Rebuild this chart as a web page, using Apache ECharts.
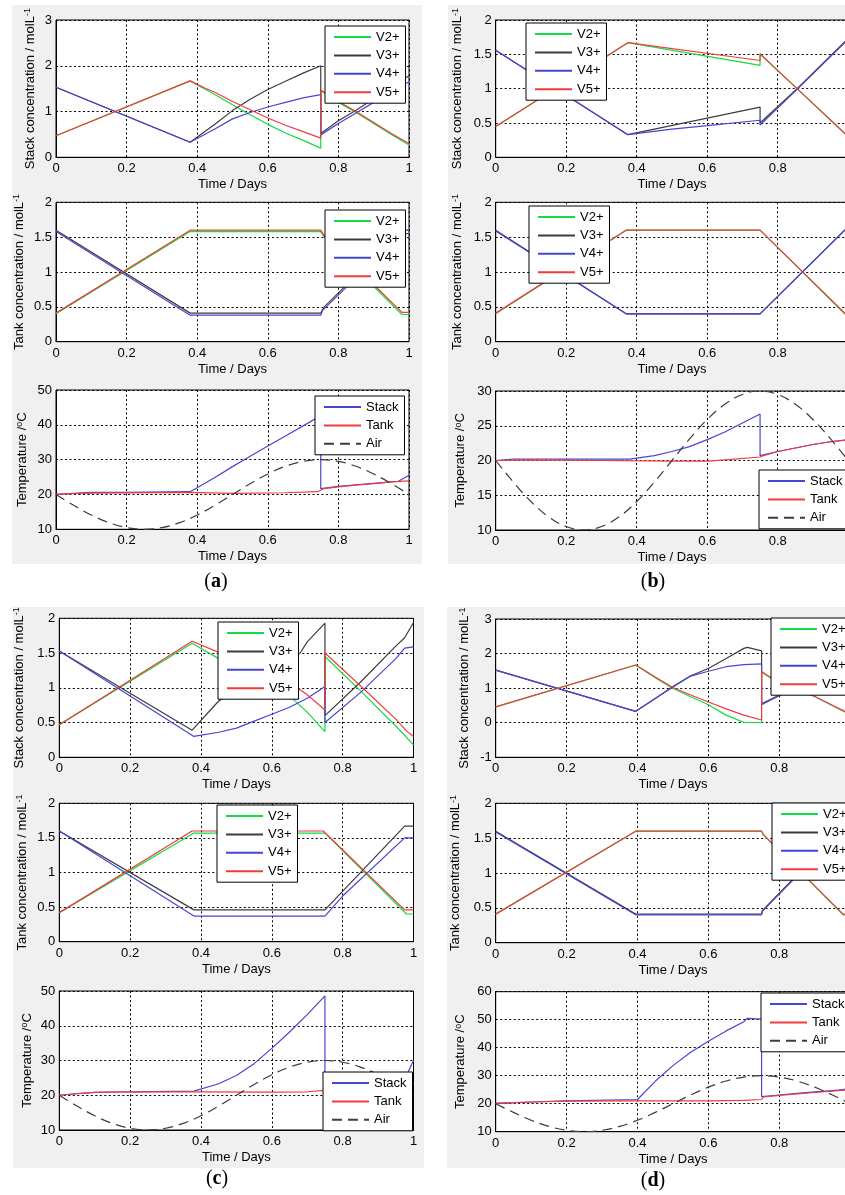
<!DOCTYPE html>
<html><head><meta charset="utf-8">
<script src="https://cdn.jsdelivr.net/npm/echarts@6/dist/echarts.min.js"></script>
<style>html,body{margin:0;padding:0;background:#fff}#c{width:845px;height:1195px}</style>
</head><body><div id="c"></div>
<script>
// ---------- names / ticks ----------
const concNames = ['V2+', 'V3+', 'V4+', 'V5+'];
const tempNames = ['Stack', 'Tank', 'Air'];
const xTickStep = 0.2;

// ---------- (a) ----------
const a1_V2 = [[0,0.47],[0.38,1.67],[0.42,1.5],[0.45,1.37],[0.5,1.15],[0.55,0.93],[0.6,0.72],[0.65,0.53],[0.7,0.37],[0.75,0.2],[0.75,1.46],[0.8,1.2],[0.85,0.98],[0.9,0.74],[0.95,0.5],[1,0.27]];
const a1_V3 = [[0,1.53],[0.38,0.33],[0.45,0.72],[0.5,1.02],[0.55,1.27],[0.6,1.48],[0.65,1.66],[0.7,1.84],[0.75,2.0],[0.75,0.52],[0.8,0.8],[0.85,1.03],[0.9,1.28],[0.95,1.53],[1,1.78]];
const a1_V4 = [[0,1.53],[0.38,0.33],[0.45,0.62],[0.5,0.84],[0.55,0.98],[0.6,1.1],[0.65,1.2],[0.7,1.3],[0.75,1.37],[0.75,0.49],[0.8,0.74],[0.85,0.97],[0.9,1.2],[0.95,1.43],[1,1.65]];
const a1_V5 = [[0,0.47],[0.38,1.67],[0.42,1.52],[0.45,1.42],[0.5,1.22],[0.55,1.04],[0.6,0.86],[0.65,0.7],[0.7,0.56],[0.75,0.42],[0.75,1.47],[0.8,1.22],[0.85,1.0],[0.9,0.76],[0.95,0.52],[1,0.3]];

const a2_V2 = [[0,0.4],[0.38,1.58],[0.75,1.58],[0.76,1.5],[0.98,0.39],[1,0.39]];
const a2_V3 = [[0,1.6],[0.38,0.41],[0.75,0.41],[0.76,0.5],[0.98,1.6],[1,1.6]];
const a2_V4 = [[0,1.58],[0.38,0.38],[0.75,0.38],[0.755,0.45],[0.98,1.55],[1,1.55]];
const a2_V5 = [[0,0.41],[0.38,1.6],[0.75,1.6],[0.76,1.52],[0.98,0.42],[1,0.42]];

const airTemp = [[0,20],[0.05,16.9],[0.1,14.1],[0.15,11.9],[0.2,10.5],[0.25,10],[0.3,10.5],[0.35,11.9],[0.4,14.1],[0.45,16.9],[0.5,20],[0.55,23.1],[0.6,25.9],[0.65,28.1],[0.7,29.5],[0.75,30],[0.8,29.5],[0.85,28.1],[0.9,25.9],[0.95,23.1],[1,20]];

const a3_Stack = [[0,20],[0.05,20.3],[0.1,20.6],[0.2,20.6],[0.38,20.8],[0.45,24.9],[0.5,28.0],[0.55,31.0],[0.6,33.9],[0.65,36.8],[0.7,39.7],[0.75,42.6],[0.75,21.7],[0.8,22.3],[0.85,22.8],[0.9,23.2],[0.95,23.6],[0.97,23.8],[1,25.5]];
const a3_Tank = [[0,20.1],[0.1,20.4],[0.38,20.6],[0.5,20.3],[0.65,20.5],[0.74,20.8],[0.76,21.7],[0.8,22.2],[0.85,22.7],[0.9,23.1],[0.95,23.6],[1,23.9]];

// ---------- (b) ----------
const b1_V2 = [[0,0.45],[0.375,1.67],[0.75,1.34],[0.75,1.5],[0.855,1.0],[1,0.3]];
const b1_V3 = [[0,1.56],[0.375,0.33],[0.75,0.73],[0.75,0.5],[0.855,1.0],[1,1.73]];
const b1_V4 = [[0,1.56],[0.375,0.33],[0.5,0.41],[0.6,0.46],[0.75,0.54],[0.75,0.47],[0.855,0.99],[1,1.72]];
const b1_V5 = [[0,0.45],[0.375,1.67],[0.75,1.41],[0.75,1.51],[0.855,1.0],[1,0.3]];

const b2_V2 = [[0,0.4],[0.37,1.6],[0.75,1.6],[0.99,0.4],[1,0.4]];
const b2_V3 = [[0,1.6],[0.37,0.4],[0.75,0.4],[0.99,1.6],[1,1.6]];
const b2_V4 = [[0,1.59],[0.37,0.4],[0.75,0.4],[0.99,1.6],[1,1.6]];
const b2_V5 = [[0,0.41],[0.37,1.6],[0.75,1.6],[0.99,0.41],[1,0.41]];

const b3_Stack = [[0,20],[0.05,20.2],[0.38,20.2],[0.45,20.7],[0.5,21.3],[0.55,22.0],[0.6,23.0],[0.65,24.1],[0.7,25.4],[0.75,26.7],[0.75,20.7],[0.8,21.3],[0.85,21.8],[0.9,22.3],[0.95,22.7],[1,23.0]];
const b3_Tank = [[0,20],[0.1,20.1],[0.3,20.0],[0.5,19.9],[0.6,19.9],[0.65,20.1],[0.75,20.5],[0.76,20.7],[0.8,21.3],[0.85,21.8],[0.9,22.3],[0.95,22.7],[1,23.0]];

// ---------- (c) ----------
const c1_V2 = [[0,0.47],[0.375,1.64],[0.45,1.42],[0.55,1.18],[0.6,1.04],[0.65,0.88],[0.7,0.65],[0.75,0.37],[0.75,1.45],[0.85,0.96],[0.95,0.45],[1,0.18]];
const c1_V3 = [[0,1.53],[0.375,0.39],[0.45,0.81],[0.55,1.1],[0.65,1.4],[0.68,1.5],[0.7,1.66],[0.75,1.93],[0.75,0.6],[0.85,1.08],[0.95,1.6],[0.975,1.72],[1,1.94]];
const c1_V4 = [[0,1.53],[0.38,0.3],[0.45,0.36],[0.5,0.42],[0.55,0.52],[0.6,0.62],[0.65,0.72],[0.7,0.85],[0.75,1.02],[0.75,0.5],[0.85,0.93],[0.95,1.42],[0.975,1.57],[1,1.59]];
const c1_V5 = [[0,0.47],[0.375,1.67],[0.45,1.51],[0.55,1.3],[0.6,1.2],[0.65,1.08],[0.7,0.9],[0.75,0.68],[0.75,1.5],[0.85,1.03],[0.95,0.55],[0.98,0.38],[1,0.3]];

const c2_V2 = [[0,0.42],[0.38,1.57],[0.75,1.57],[0.98,0.4],[1,0.4]];
const c2_V3 = [[0,1.6],[0.38,0.46],[0.75,0.46],[0.975,1.67],[1,1.67]];
const c2_V4 = [[0,1.6],[0.38,0.37],[0.75,0.37],[0.8,0.66],[0.975,1.5],[1,1.5]];
const c2_V5 = [[0,0.42],[0.375,1.6],[0.745,1.6],[0.975,0.46],[1,0.46]];

const c3_Stack = [[0,20],[0.05,20.5],[0.1,20.8],[0.2,21.0],[0.38,21.2],[0.45,23.3],[0.5,25.7],[0.55,29.1],[0.6,33.5],[0.65,38.2],[0.7,43.2],[0.75,48.6],[0.75,21.8],[0.85,22.5],[0.95,23.3],[0.975,24.5],[1,30]];
const c3_Tank = [[0,20],[0.1,20.8],[0.2,21.0],[0.4,21.0],[0.6,20.9],[0.7,21.0],[0.75,21.4],[0.8,22],[0.9,23],[1,23.5]];

// ---------- (d) ----------
const d1_V2 = [[0,0.46],[0.395,1.67],[0.45,1.3],[0.5,0.99],[0.55,0.75],[0.6,0.52],[0.65,0.22],[0.7,0.01],[0.75,0.0],[0.75,1.46],[0.8,1.14],[0.9,0.76],[0.99,0.28],[1,0.25]];
const d1_V3 = [[0,1.52],[0.395,0.33],[0.45,0.7],[0.5,1.05],[0.55,1.36],[0.6,1.57],[0.65,1.86],[0.7,2.15],[0.71,2.18],[0.75,2.08],[0.75,0.55],[0.8,0.8],[0.9,1.3],[1,1.75]];
const d1_V4 = [[0,1.52],[0.395,0.33],[0.45,0.7],[0.5,1.03],[0.55,1.35],[0.6,1.49],[0.65,1.62],[0.7,1.68],[0.75,1.7],[0.75,0.52],[0.8,0.78],[0.9,1.28],[1,1.72]];
const d1_V5 = [[0,0.46],[0.395,1.67],[0.45,1.32],[0.5,1.02],[0.55,0.8],[0.6,0.6],[0.65,0.4],[0.7,0.22],[0.75,0.08],[0.75,1.48],[0.8,1.14],[0.9,0.76],[0.99,0.3],[1,0.27]];

const d2_V2 = [[0,0.41],[0.395,1.6],[0.75,1.6],[0.755,1.55],[0.98,0.4],[1,0.4]];
const d2_V3 = [[0,1.6],[0.395,0.41],[0.75,0.41],[0.752,0.46],[0.97,1.6],[1,1.6]];
const d2_V4 = [[0,1.59],[0.395,0.4],[0.75,0.4],[0.752,0.45],[0.97,1.58],[1,1.58]];
const d2_V5 = [[0,0.41],[0.395,1.6],[0.75,1.6],[0.755,1.55],[0.98,0.41],[1,0.41]];

const d3_Stack = [[0,20],[0.1,20.6],[0.2,21.0],[0.4,21.5],[0.45,28.0],[0.5,33.6],[0.55,38.4],[0.6,42.3],[0.65,46.0],[0.7,49.3],[0.71,50.5],[0.75,50.2],[0.75,22.5],[0.8,23.1],[0.85,23.7],[0.9,24.2],[0.95,24.7],[0.98,25.0],[1,26.2]];
const d3_Tank = [[0,20.2],[0.1,20.6],[0.2,20.9],[0.4,21.0],[0.6,21.0],[0.7,21.2],[0.75,21.5],[0.755,22.4],[0.8,23.0],[0.9,24.0],[1,25.0]];

// ---------- styling / layout ----------
const FONT = '"Liberation Sans", Arial, Helvetica, sans-serif';
const concColors = ['#12dc46', '#3c3c3c', '#4646d2', '#f03c3c'];
const tempColors = ['#4646d2', '#f03c3c', '#3c3c3c'];
const NAME_STACK = 'Stack concentration / molL{s|-1}';
const NAME_TANK = 'Tank concentration / molL{s|-1}';
const NAME_TEMP = 'Temperature /{s|o}C';

const panels = [
  { g:[56,20,353,137.3],      y:[0,3,1],    name:NAME_STACK, gap:19, lg:[325,26],  k:'c', d:[a1_V2,a1_V3,a1_V4,a1_V5] },
  { g:[56,202.3,353,139.4],   y:[0,2,0.5],  name:NAME_TANK,  gap:30, lg:[325,210], k:'c', d:[a2_V2,a2_V3,a2_V4,a2_V5] },
  { g:[56,390,353,139.3],     y:[10,50,10], name:NAME_TEMP,  gap:27, lg:[315,396], k:'t', d:[a3_Stack,a3_Tank,airTemp] },
  { g:[495.7,20,352.5,137.3], y:[0,2,0.5],  name:NAME_STACK, gap:31, lg:[526,23],  k:'c', d:[b1_V2,b1_V3,b1_V4,b1_V5] },
  { g:[495.7,202.3,352.5,139.4], y:[0,2,0.5], name:NAME_TANK, gap:31, lg:[529,206], k:'c', d:[b2_V2,b2_V3,b2_V4,b2_V5] },
  { g:[495.7,391,352.5,139],  y:[10,30,5],  name:NAME_TEMP,  gap:28, lg:[759,470], k:'t', d:[b3_Stack,b3_Tank,airTemp] },
  { g:[59.3,618.3,354.2,139], y:[0,2,0.5],  name:NAME_STACK, gap:33, lg:[218,622], k:'c', d:[c1_V2,c1_V3,c1_V4,c1_V5] },
  { g:[59.3,803.3,354.2,138.4], y:[0,2,0.5], name:NAME_TANK, gap:30, lg:[217,805], k:'c', d:[c2_V2,c2_V3,c2_V4,c2_V5] },
  { g:[59.3,991,354.2,139],   y:[10,50,10], name:NAME_TEMP,  gap:25, lg:[323,1072], k:'t', d:[c3_Stack,c3_Tank,airTemp] },
  { g:[495.7,619,354.5,138.3], y:[-1,3,1],  name:NAME_STACK, gap:24, lg:[771,618], k:'c', d:[d1_V2,d1_V3,d1_V4,d1_V5] },
  { g:[495.7,803.3,354.5,139.4], y:[0,2,0.5], name:NAME_TANK, gap:33, lg:[772,803], k:'c', d:[d2_V2,d2_V3,d2_V4,d2_V5] },
  { g:[495.7,991.7,354.5,140], y:[10,60,10], name:NAME_TEMP, gap:28, lg:[761,993], k:'t', d:[d3_Stack,d3_Tank,airTemp] }
];

const grid = [], xAxis = [], yAxis = [], series = [], legend = [];
const splitStyle = { show: true, lineStyle: { color: '#000', type: [2, 2.5], width: 1 } };
const labelStyle = { color: '#000', fontSize: 13, fontFamily: FONT };

panels.forEach((p, i) => {
  grid.push({ left: p.g[0], top: p.g[1], width: p.g[2], height: p.g[3], show: true,
    backgroundColor: '#fff', borderColor: '#000', borderWidth: 1, containLabel: false,
    outerBoundsMode: 'none' });
  xAxis.push({ type: 'value', gridIndex: i, min: 0, max: 1, interval: xTickStep,
    name: 'Time / Days', nameLocation: 'middle', nameGap: 21,
    nameTextStyle: { color: '#000', fontSize: 13, fontFamily: FONT },
    axisLine: { show: true, onZero: false, lineStyle: { color: '#000', width: 1 } },
    axisTick: { show: false },
    axisLabel: Object.assign({ margin: 5 }, labelStyle),
    splitLine: splitStyle });
  yAxis.push({ type: 'value', gridIndex: i, min: p.y[0], max: p.y[1], interval: p.y[2],
    name: p.name, nameLocation: 'middle', nameRotate: 90, nameGap: p.gap,
    nameTextStyle: { color: '#000', fontSize: 13, fontFamily: FONT, lineHeight: 14,
      rich: { s: { fontSize: 9, fontFamily: FONT, color: '#000', verticalAlign: 'top', lineHeight: 9 } } },
    axisLine: { show: true, onZero: false, lineStyle: { color: '#000', width: 1 } },
    axisTick: { show: false },
    axisLabel: Object.assign({ margin: 4 }, labelStyle),
    splitLine: splitStyle });
  const names = p.k === 'c' ? concNames : tempNames;
  const colors = p.k === 'c' ? concColors : tempColors;
  p.d.forEach((arr, j) => {
    const isAir = p.k === 't' && j === 2;
    series.push({ type: 'line', name: names[j], xAxisIndex: i, yAxisIndex: i, data: arr,
      symbol: 'none', smooth: isAir ? 0.4 : false, clip: true, animation: false,
      lineStyle: { color: colors[j], width: 1.2, type: isAir ? [10, 6] : 'solid' },
      itemStyle: { color: colors[j] } });
  });
  legend.push({ orient: 'vertical', left: p.lg[0], top: p.lg[1], data: names.slice(),
    selectedMode: false, backgroundColor: '#fff', borderColor: '#000', borderWidth: 1,
    borderRadius: 0, padding: [4, 6, 4, 8], itemWidth: 37, itemHeight: 14, itemGap: 4.4,
    itemStyle: { opacity: 0 }, lineStyle: { width: 2 },
    textStyle: { color: '#000', fontSize: 13, fontFamily: FONT, lineHeight: 14 } });
});

const grayRects = [[12,5,410,559],[448,5,397,559],[13,607,411,561],[447,607,398,561]];
const panelLabels = [['a',216,582],['b',653,582],['c',217,1179],['d',653,1181]];
const graphic = [];
grayRects.forEach(r => graphic.push({ type: 'rect', z: -100, silent: true,
  shape: { x: r[0], y: r[1], width: r[2], height: r[3] }, style: { fill: '#f0f0f0' } }));
panelLabels.forEach(l => graphic.push({ type: 'text', x: l[1], y: l[2], silent: true,
  style: { text: '({b|' + l[0] + '})', fill: '#000', font: '20px "Liberation Serif", "Times New Roman", serif',
    align: 'center', verticalAlign: 'middle',
    rich: { b: { fontWeight: 'bold', fontSize: 20, fontFamily: '"Liberation Serif", "Times New Roman", serif', fill: '#000' } } } }));

const chart = echarts.init(document.getElementById('c'), null, { renderer: 'canvas' });
chart.setOption({ animation: false, backgroundColor: '#fff', grid, xAxis, yAxis, series, legend, graphic });
</script></body></html>
